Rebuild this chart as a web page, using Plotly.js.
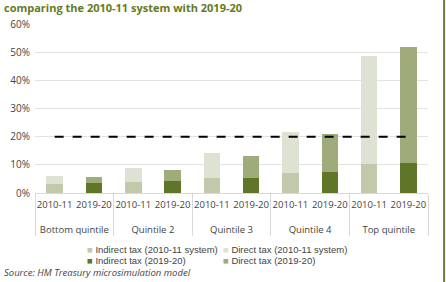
<!DOCTYPE html>
<html>
<head>
<meta charset="utf-8">
<script src="https://cdn.plot.ly/plotly-3.0.1.min.js"></script>
<style>
html,body{margin:0;padding:0;background:#fff;}
#chart{width:446px;height:282px;}
</style>
</head>
<body>
<div id="chart"></div>
<script>
const groups = ["Bottom quintile", "Quintile 2", "Quintile 3", "Quintile 4", "Top quintile"];
const periodOld = "2010-11";
const periodNew = "2019-20";
const indirect2010 = [3.3, 3.9, 5.3, 7.0, 10.2];
const direct2010 = [2.6, 5.0, 8.8, 14.7, 38.6];
const indirect2019 = [3.5, 4.2, 5.5, 7.3, 10.7];
const direct2019 = [2.1, 4.0, 7.7, 13.6, 41.2];
const benchmark = 20;
const yTickVals = [0, 10, 20, 30, 40, 50, 60];
const yTickText = ["0%", "10%", "20%", "30%", "40%", "50%", "60%"];
const seriesNames = ["Indirect tax (2010-11 system)", "Direct tax (2010-11 system)",
                     "Indirect tax (2019-20)", "Direct tax (2019-20)"];
const seriesColors = ["#c2c9aa", "#dde2d2", "#5f7629", "#9eab7a"];

// group labels are shown one line lower than the period labels, as in the original
const groupLabels = groups.map(g => "<br>" + g);
const xOld = [groupLabels, groups.map(() => periodOld)];
const xNew = [groupLabels, groups.map(() => periodNew)];

const font = "Open Sans, Liberation Sans, sans-serif";
const legendFont = "Liberation Sans, Arial, sans-serif";

const seriesX = [xOld, xOld, xNew, xNew];
const seriesY = [indirect2010, direct2010, indirect2019, direct2019];
const legendIds = ["legend", "legend2", "legend3", "legend4"];

const traces = [];
seriesNames.forEach((name, i) => {
  traces.push({type: "bar", name: name, x: seriesX[i], y: seriesY[i],
    marker: {color: seriesColors[i]}, showlegend: false, legend: legendIds[i]});
});
seriesNames.forEach((name, i) => {
  traces.push({type: "scatter", mode: "markers", x: [null], y: [null],
    name: '<span style="color:' + seriesColors[i] + '">\u25A0</span> ' + name,
    legend: legendIds[i], hoverinfo: "skip",
    marker: {size: 1, opacity: 0, color: "rgba(0,0,0,0)"}});
});
traces.push({type: "scatter", mode: "lines", showlegend: false, hoverinfo: "skip",
   legend: "legend4",
   x: [[groupLabels[0], groupLabels[groupLabels.length - 1]], [periodOld, periodNew]],
   y: [benchmark, benchmark],
   line: {color: "#000", width: 2, dash: "dash"}});

function legendAt(px, py) {
  return {
    orientation: "h", xanchor: "left", yanchor: "top",
    x: (px - 35) / 393, y: (193 - py) / 169,
    font: {size: 9.5, color: "#444", family: legendFont},
    itemwidth: 30, bgcolor: "rgba(0,0,0,0)"
  };
}

const layout = {
  width: 446, height: 282,
  margin: {l: 35, r: 18, t: 24, b: 89, autoexpand: false},
  paper_bgcolor: "#fff", plot_bgcolor: "#fff",
  barmode: "stack",
  bargap: 0.58,
  showlegend: true,
  font: {family: font, size: 10, color: "#444"},
  xaxis: {
    type: "multicategory",
    showline: true, linecolor: "#d9d9d9", linewidth: 1,
    showdividers: true, dividercolor: "#d9d9d9", dividerwidth: 1,
    tickfont: {size: 9.5, color: "#444"},
    tickangle: 0, automargin: false, ticklabelstandoff: 3,
    showgrid: false, ticks: ""
  },
  yaxis: {
    range: [0, 60],
    tickvals: yTickVals, ticktext: yTickText,
    showgrid: true, gridcolor: "#e3e3e3", gridwidth: 1,
    zeroline: false, automargin: false,
    tickfont: {size: 10, color: "#444"},
    ticklen: 0, ticks: "", ticklabelstandoff: 4
  },
  legend: legendAt(47, 235),
  legend2: legendAt(183, 235),
  legend3: legendAt(47, 246),
  legend4: legendAt(183, 246),
  annotations: [
    {text: "<b>comparing the 2010-11 system with 2019-20</b>", xref: "paper", yref: "paper",
     x: -0.085, y: 1.0, xanchor: "left", yanchor: "bottom", yshift: 7, showarrow: false,
     font: {size: 11, color: "#647a22", family: font}},
    {text: "<i>Source: HM Treasury microsimulation model</i>", xref: "paper", yref: "paper",
     x: -0.085, y: -0.473, xanchor: "left", yanchor: "middle", showarrow: false,
     font: {size: 9.5, color: "#444", family: font}}
  ],
  shapes: [
    {type: "line", xref: "paper", yref: "paper", x0: 1.041, x1: 1.041, y0: -0.6, y1: 1.2,
     line: {color: "#6b7b3a", width: 2}}
  ]
};

Plotly.newPlot("chart", traces, layout, {displayModeBar: false, staticPlot: true});
</script>
</body>
</html>
